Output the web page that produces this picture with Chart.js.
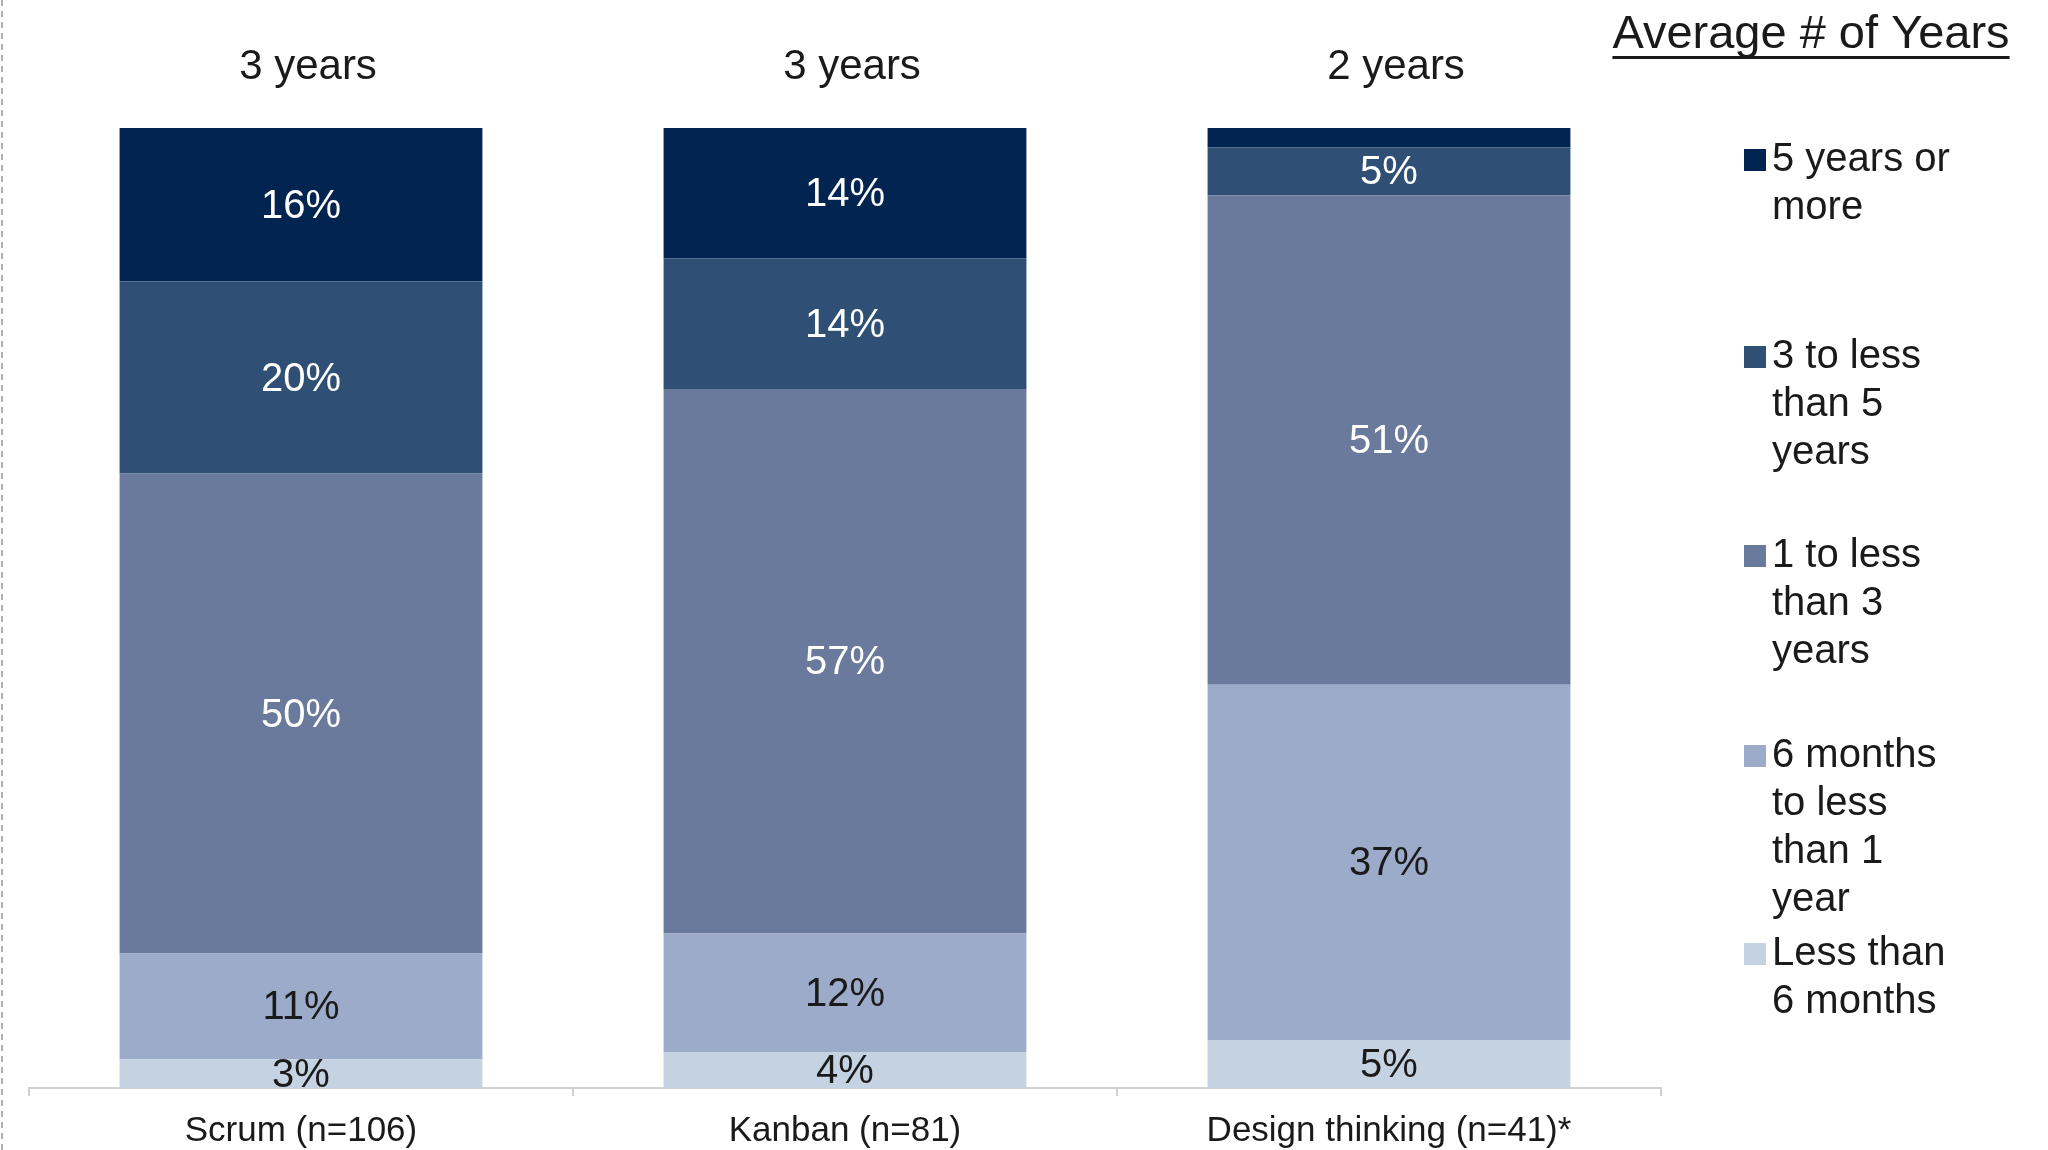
<!DOCTYPE html>
<html>
<head>
<meta charset="utf-8">
<script src="https://cdn.jsdelivr.net/npm/chart.js@4.4.1/dist/chart.umd.min.js"></script>
<style>
html,body{margin:0;padding:0;background:#fff;overflow:hidden;}
#wrap{width:2048px;height:1150px;position:relative;overflow:hidden;}
</style>
</head>
<body>
<div id="wrap"><canvas id="c" width="2048" height="1166"></canvas></div>
<script>
const categories = ['Scrum (n=106)', 'Kanban (n=81)', 'Design thinking (n=41)*'];
const averageYears = ['3 years', '3 years', '2 years'];
const seriesNames = ['Less than 6 months', '6 months to less than 1 year', '1 to less than 3 years', '3 to less than 5 years', '5 years or more'];
const legendLines = [
  ['5 years or', 'more'],
  ['3 to less', 'than 5', 'years'],
  ['1 to less', 'than 3', 'years'],
  ['6 months', 'to less', 'than 1', 'year'],
  ['Less than', '6 months']
];
const lessThan6Months = [3, 3.7, 5];
const sixMonthsTo1Year = [11, 12.4, 37];
const oneTo3Years = [50, 56.7, 51];
const threeTo5Years = [20, 13.6, 5];
const fiveYearsOrMore = [16, 13.6, 2];
const legendTitle = 'Average # of Years';

const colors = ['#C4D2E2', '#9CABC9', '#6A7A9C', '#2F4F75', '#022450'];
const labelColors = ['#1a1a1a', '#1a1a1a', '#ffffff', '#ffffff', '#ffffff'];
const seriesValues = [lessThan6Months, sixMonthsTo1Year, oneTo3Years, threeTo5Years, fiveYearsOrMore];
const FONT = '"Liberation Sans", Arial, sans-serif';

const extras = {
  id: 'extras',
  afterDatasetsDraw(chart) {
    const ctx = chart.ctx;
    ctx.save();
    // data labels
    chart.data.datasets.forEach((ds, di) => {
      const meta = chart.getDatasetMeta(di);
      meta.data.forEach((bar, i) => {
        const v = ds.data[i];
        if (v < 2.5) return;
        const cy = (bar.y + bar.base) / 2;
        ctx.fillStyle = labelColors[di];
        ctx.font = '40px ' + FONT;
        ctx.textAlign = 'center';
        ctx.textBaseline = 'middle';
        ctx.fillText(Math.round(v) + '%', bar.x, cy + 2);
      });
    });
    // average years above bars
    const xs = chart.scales.x;
    ctx.fillStyle = '#1a1a1a';
    ctx.font = '42px ' + FONT;
    ctx.textAlign = 'center';
    ctx.textBaseline = 'middle';
    averageYears.forEach((t, i) => {
      ctx.fillText(t, xs.getPixelForValue(i) + 7, 67);
    });
    // legend title
    ctx.font = '47px ' + FONT;
    ctx.textAlign = 'center';
    ctx.fillText(legendTitle, 1811, 35);
    const w = ctx.measureText(legendTitle).width;
    ctx.fillRect(1811 - w / 2, 56, w, 3);
    // legend
    const order = [4, 3, 2, 1, 0];
    const starts = [160, 357, 556, 756, 954];
    ctx.font = '40px ' + FONT;
    ctx.textAlign = 'left';
    order.forEach((di, k) => {
      const y0 = starts[k];
      ctx.fillStyle = chart.data.datasets[di].backgroundColor;
      ctx.fillRect(1744, y0 - 11, 22, 22);
      ctx.fillStyle = '#1a1a1a';
      legendLines[k].forEach((ln, j) => {
        ctx.fillText(ln, 1772, y0 + j * 48);
      });
    });
    // left dashed border
    ctx.strokeStyle = '#b0b0b0';
    ctx.lineWidth = 2;
    ctx.setLineDash([6, 5]);
    ctx.beginPath();
    ctx.moveTo(2, 0);
    ctx.lineTo(2, 1150);
    ctx.stroke();
    ctx.restore();
  }
};

new Chart(document.getElementById('c'), {
  type: 'bar',
  data: {
    labels: categories,
    datasets: seriesValues.map((vals, i) => ({
      label: seriesNames[i],
      data: vals,
      backgroundColor: colors[i],
      borderWidth: 0,
      categoryPercentage: 1,
      barPercentage: 0.667
    }))
  },
  options: {
    responsive: false,
    animation: false,
    devicePixelRatio: 1,
    layout: { padding: { left: 29, right: 387, top: 128, bottom: 0 } },
    plugins: { legend: { display: false }, tooltip: { enabled: false } },
    scales: {
      x: {
        stacked: true,
        grid: { display: true, drawOnChartArea: false, drawTicks: true, tickLength: 8, color: '#d0d0d0', lineWidth: 2 },
        border: { display: true, color: '#d0d0d0', width: 2 },
        ticks: { color: '#1a1a1a', font: { family: FONT, size: 35 }, padding: 14, maxRotation: 0, autoSkip: false }
      },
      y: {
        stacked: true,
        display: false,
        min: 0,
        max: 100
      }
    }
  },
  plugins: [extras]
});
</script>
</body>
</html>
